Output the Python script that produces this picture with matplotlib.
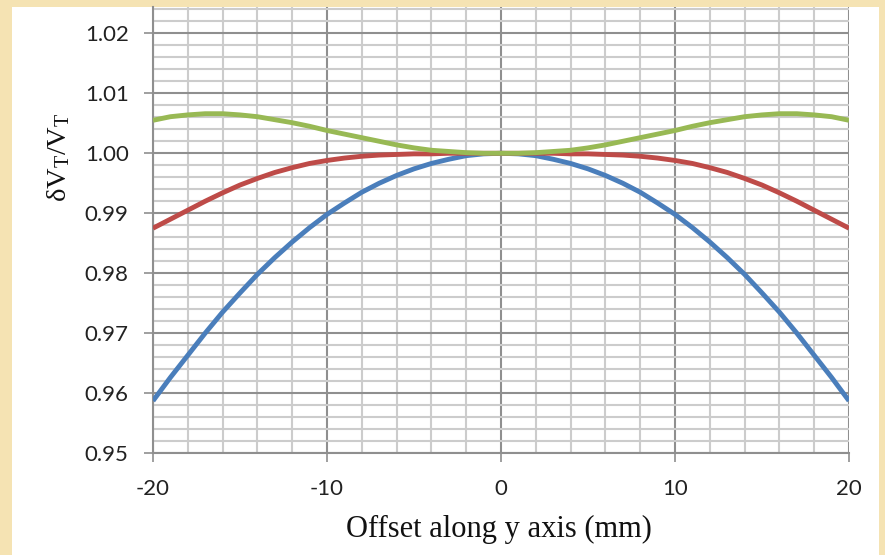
import matplotlib.pyplot as plt
from matplotlib.patches import Rectangle
from matplotlib.ticker import MultipleLocator

plt.rcParams['mathtext.fontset'] = 'custom'
plt.rcParams['mathtext.rm'] = 'Liberation Serif'
plt.rcParams['mathtext.it'] = 'Liberation Serif:italic'
plt.rcParams['axes.unicode_minus'] = False

# offset along y axis (mm)
offset = list(range(-20, 21))

blue = [0.9587, 0.9626, 0.9663, 0.9700, 0.9735, 0.9767, 0.9798, 0.9826, 0.9852, 0.9876,
        0.9898, 0.9917, 0.9935, 0.9950, 0.9963, 0.9974, 0.9983, 0.9990, 0.9996, 0.9999,
        1.0000,
        0.9999, 0.9996, 0.9990, 0.9983, 0.9974, 0.9963, 0.9950, 0.9935, 0.9917, 0.9898,
        0.9876, 0.9852, 0.9826, 0.9798, 0.9767, 0.9735, 0.9700, 0.9663, 0.9626, 0.9587]
red = [0.9875, 0.9890, 0.9905, 0.9920, 0.9934, 0.9947, 0.9958, 0.9968, 0.9976, 0.9983,
       0.9988, 0.9992, 0.9995, 0.9997, 0.9998, 0.9999, 0.9999, 1.0000, 1.0000, 1.0000,
       1.0000,
       1.0000, 1.0000, 1.0000, 0.9999, 0.9999, 0.9998, 0.9997, 0.9995, 0.9992, 0.9988,
       0.9983, 0.9976, 0.9968, 0.9958, 0.9947, 0.9934, 0.9920, 0.9905, 0.9890, 0.9875]
green = [1.0055, 1.0061, 1.0064, 1.0066, 1.0066, 1.0064, 1.0061, 1.0056, 1.0051, 1.0045,
         1.0038, 1.0032, 1.0026, 1.0020, 1.0014, 1.0009, 1.0005, 1.0003, 1.0001, 1.0000,
         1.0000,
         1.0000, 1.0001, 1.0003, 1.0005, 1.0009, 1.0014, 1.0020, 1.0026, 1.0032, 1.0038,
         1.0045, 1.0051, 1.0056, 1.0061, 1.0064, 1.0066, 1.0066, 1.0064, 1.0061, 1.0055]

yticks = [0.95, 0.96, 0.97, 0.98, 0.99, 1.00, 1.01, 1.02]
xticks = [-20, -10, 0, 10, 20]

W, H = 885, 555
fig = plt.figure(figsize=(W / 100, H / 100), dpi=100)
fig.patch.set_facecolor('#f5e3b3')
fig.patches.append(Rectangle((12 / W, 0), (879 - 12) / W, 1 - 7 / H,
                             transform=fig.transFigure, facecolor='white',
                             edgecolor='none', zorder=-5))

ax = fig.add_axes([153 / W, 1 - 453 / H, (849 - 153) / W, (453 - 7) / H])
ax.set_zorder(2)
ax.set_facecolor('white')

for ys, col in [(blue, '#4a7ebb'), (red, '#be4b48'), (green, '#98b954')]:
    ax.plot(offset, ys, color=col, lw=3.5, solid_capstyle='butt',
            solid_joinstyle='round', zorder=3)

ax.set_xlim(-20, 20)
ax.set_ylim(0.95, 1.0244)
ax.set_xticks(xticks)
ax.set_yticks(yticks)
ax.set_yticklabels(['%.2f' % v for v in yticks])
ax.xaxis.set_minor_locator(MultipleLocator(2))
ax.yaxis.set_minor_locator(MultipleLocator(0.002))

ax.grid(which='minor', color='#cccccc', lw=1.5)
ax.grid(which='major', color='#8f8f8f', lw=1.5)
ax.set_axisbelow(True)

for s in ['top', 'right']:
    ax.spines[s].set_visible(False)
for s in ['left', 'bottom']:
    ax.spines[s].set_color('#8f8f8f')
    ax.spines[s].set_linewidth(1.5)

ax.tick_params(which='major', direction='out', length=6.5, width=1.2,
               color='#8f8f8f', labelsize=16, labelcolor='#222222')
ax.tick_params(axis='y', pad=11)
ax.tick_params(axis='x', pad=12)
ax.tick_params(which='minor', length=0)
for lab in ax.get_xticklabels() + ax.get_yticklabels():
    lab.set_family('Lato')

fig.text(499 / W, 1 - 529 / H, 'Offset along y axis (mm)', family='Liberation Serif',
         fontsize=22, ha='center', va='center', color='#111111')
fig.text(59 / W, 1 - 157 / H, 'δV$_\\mathrm{T}$/V$_\\mathrm{T}$', family='Liberation Serif',
         fontsize=20.5, ha='center', va='center', rotation=90, color='#111111')

fig.savefig('out.png', dpi=100, facecolor=fig.get_facecolor())
